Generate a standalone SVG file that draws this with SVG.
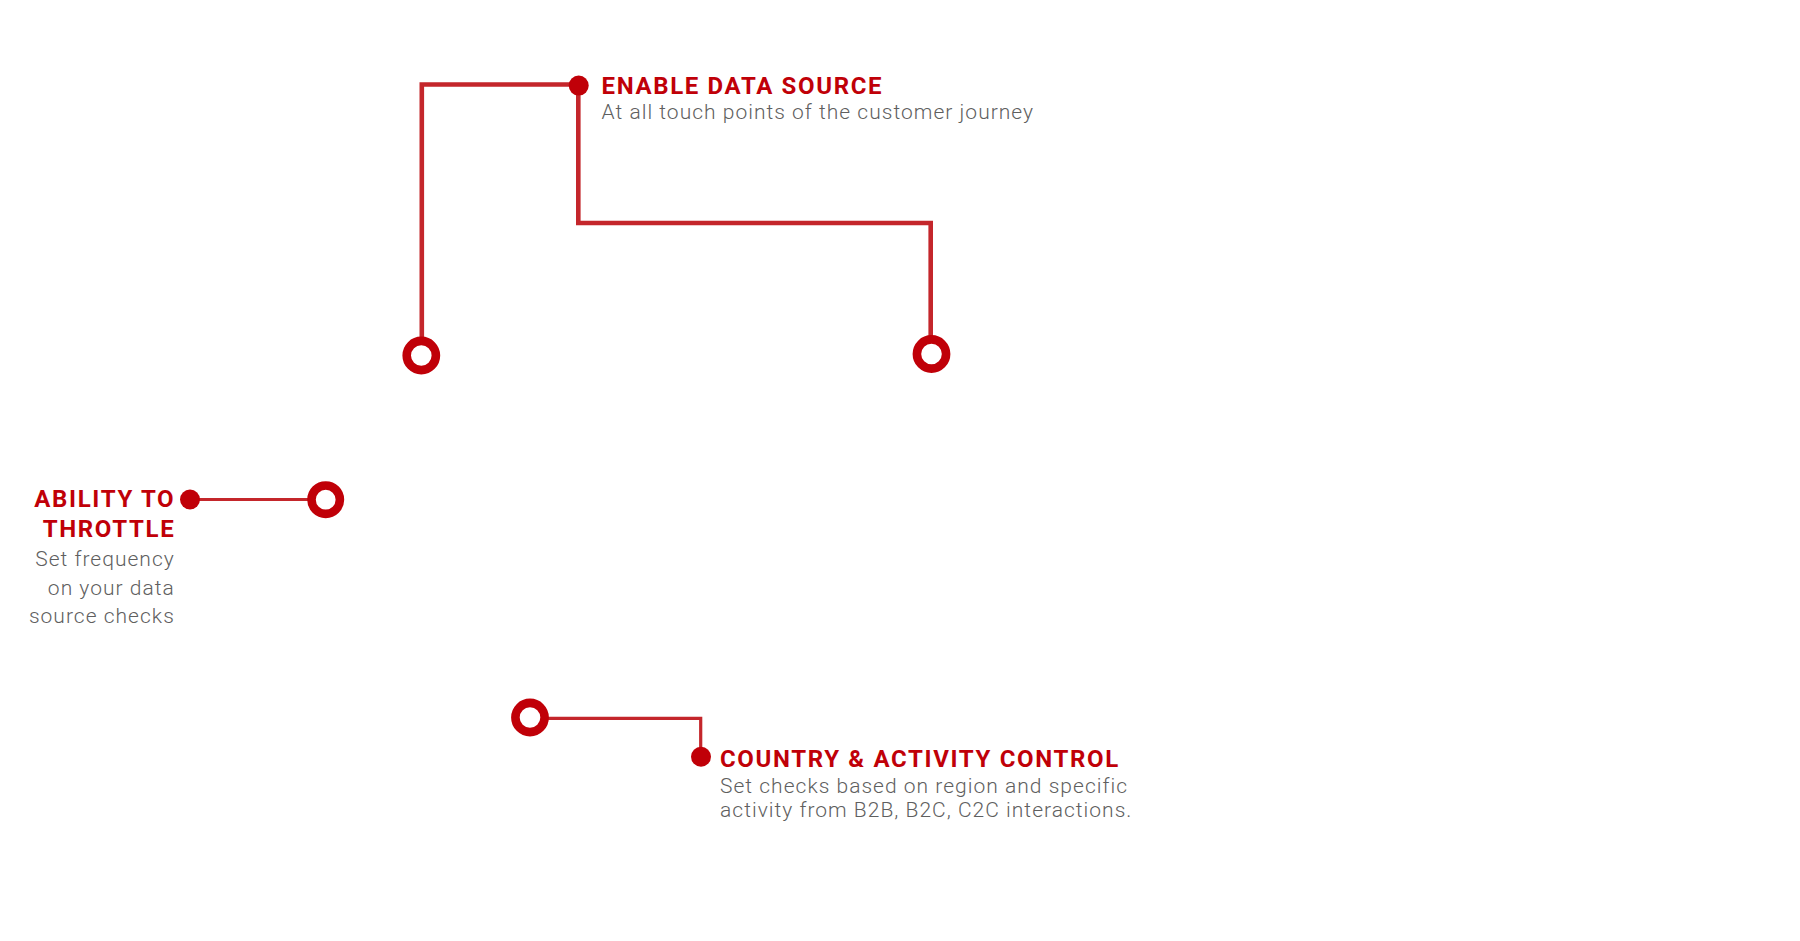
<svg xmlns="http://www.w3.org/2000/svg" width="1800" height="941" viewBox="0 0 1800 941">
<style>
.bg{fill:#ffffff}
.conn{fill:none;stroke:#c4262b;stroke-linejoin:miter}
.thick{stroke-width:4.6}
.thin{stroke-width:3.2}
.ring{fill:#ffffff;stroke:#c00008;stroke-width:8.6}
.dot{fill:#c00008}
.head{font-family:Roboto,"Liberation Sans",sans-serif;font-weight:700;font-size:24px;fill:#c00008;letter-spacing:1.65px}
.sub{font-family:Roboto,"Liberation Sans",sans-serif;font-weight:300;font-size:21px;fill:#5f5f5f;letter-spacing:1.02px}
</style>
<rect class="bg" x="0" y="0" width="1800" height="941"/>
<g id="connectors">
<path class="conn thick" d="M421.8 355 V84.5 H578.5"/>
<path class="conn thick" d="M578.3 85.5 V223 H930.7 V354"/>
<path class="conn thin" d="M190 499.5 H325.7"/>
<path class="conn thin" d="M530 718.3 H700.7 V756.7"/>
</g>
<g id="node-enable-data-source">
<circle class="dot" cx="578.7" cy="85.6" r="10"/>
<text class="head" x="601.5" y="94">ENABLE DATA SOURCE</text>
<text class="sub" x="601.5" y="119">At all touch points of the customer journey</text>
</g>
<g id="node-ring-left">
<circle class="ring" cx="421.3" cy="355.5" r="14.6"/>
</g>
<g id="node-ring-right">
<circle class="ring" cx="931.5" cy="354" r="14.6"/>
</g>
<g id="node-ability-to-throttle">
<circle class="dot" cx="190" cy="499.5" r="10"/>
<circle class="ring" cx="325.7" cy="499.7" r="14.2"/>
<text class="head" text-anchor="end" x="175.3" y="506.5">ABILITY TO</text>
<text class="head" text-anchor="end" x="175.3" y="536.5">THROTTLE</text>
<text class="sub" text-anchor="end" x="174.8" y="566">Set frequency</text>
<text class="sub" text-anchor="end" x="174.8" y="594.5">on your data</text>
<text class="sub" text-anchor="end" x="174.8" y="623.2">source checks</text>
</g>
<g id="node-country-activity-control">
<circle class="ring" cx="530" cy="717.5" r="14.6"/>
<circle class="dot" cx="701" cy="756.7" r="10"/>
<text class="head" x="720" y="767.3">COUNTRY &amp; ACTIVITY CONTROL</text>
<text class="sub" x="720" y="793">Set checks based on region and specific</text>
<text class="sub" x="720" y="817.3">activity from B2B, B2C, C2C interactions.</text>
</g>
</svg>
